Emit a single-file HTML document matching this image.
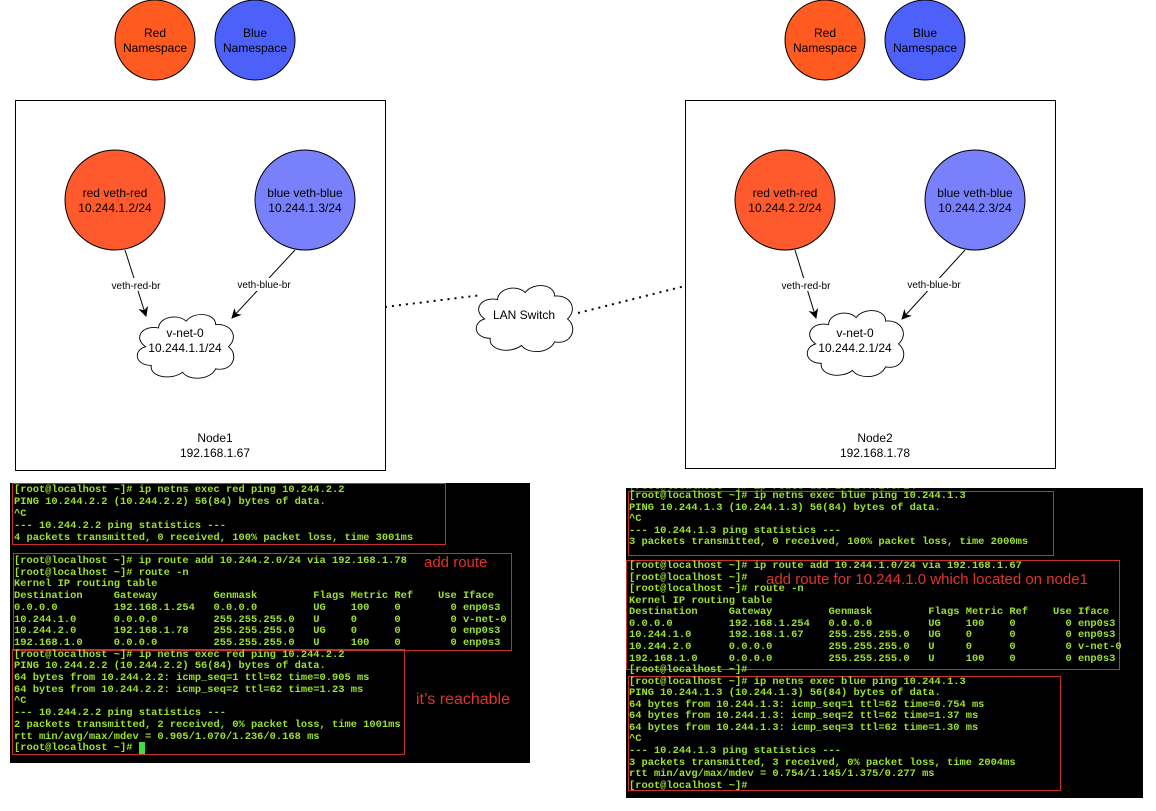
<!DOCTYPE html>
<html><head><meta charset="utf-8"><style>
body{margin:0;width:1156px;height:811px;background:#fff;position:relative;overflow:hidden;font-family:"Liberation Sans",sans-serif}
svg{position:absolute;left:0;top:0}
.term{position:absolute;background:#000;overflow:hidden}
.l{position:absolute;font-family:"Liberation Mono",monospace;font-size:10.4px;line-height:12px;color:#9be12e;white-space:pre;font-weight:bold}
.box{position:absolute;border:1px solid #c8302a}
.ann{position:absolute;color:#e0342c;font-size:15px;white-space:pre}
</style></head><body>
<svg width="1156" height="811" viewBox="0 0 1156 811" font-family="Liberation Sans, sans-serif" text-anchor="middle">
<defs>
<path id="cl" d="M30,20 C30,8 50,2 60,12 C68,0 92,2 92,16 C108,14 118,30 106,42 C118,52 110,72 92,68 C86,82 62,82 56,72 C44,82 20,78 22,64 C4,64 2,46 16,42 C2,32 12,16 30,20 Z" fill="#fff" stroke="#000" stroke-width="1"/>
<marker id="ar" markerWidth="10" markerHeight="10" refX="9" refY="5" orient="auto" markerUnits="userSpaceOnUse"><path d="M0,0 L10,5 L0,10 L3,5 Z" fill="#000"/></marker>
</defs>
<g stroke="#000" stroke-width="1">
<circle cx="155" cy="40" r="40" fill="#ff5a1f"/><circle cx="255" cy="40" r="40" fill="#4d61fa"/>
<circle cx="825" cy="40" r="40" fill="#ff5a1f"/><circle cx="925" cy="40" r="40" fill="#4d61fa"/>
<rect x="15.5" y="100.5" width="370" height="370" fill="#fff"/>
<rect x="685.5" y="100.5" width="370" height="368" fill="#fff"/>
<circle cx="115" cy="200" r="50" fill="#ff5a2d"/><circle cx="305" cy="200" r="50" fill="#7880fc"/>
<circle cx="785" cy="200" r="50" fill="#ff5a2d"/><circle cx="975" cy="200" r="50" fill="#7880fc"/>
<line x1="125" y1="250" x2="146" y2="316" marker-end="url(#ar)"/>
<line x1="295" y1="250" x2="232" y2="318" marker-end="url(#ar)"/>
<line x1="795" y1="250" x2="816" y2="318" marker-end="url(#ar)"/>
<line x1="965" y1="250" x2="902" y2="319" marker-end="url(#ar)"/>
<line x1="385" y1="307" x2="482" y2="295" stroke-width="2" stroke-dasharray="2,5"/>
<line x1="578" y1="313" x2="685" y2="286" stroke-width="2" stroke-dasharray="2,5"/>
</g>
<use href="#cl" transform="translate(131,311) scale(0.92,0.85)"/>
<use href="#cl" transform="translate(801,307) scale(0.92,0.88)"/>
<use href="#cl" transform="translate(470,282) scale(0.92,0.88)"/>
<g font-size="12" fill="#000">
<text x="155" y="37">Red</text><text x="155" y="52">Namespace</text>
<text x="255" y="37">Blue</text><text x="255" y="52">Namespace</text>
<text x="825" y="37">Red</text><text x="825" y="52">Namespace</text>
<text x="925" y="37">Blue</text><text x="925" y="52">Namespace</text>
<text x="115" y="197">red veth-red</text><text x="115" y="212">10.244.1.2/24</text>
<text x="305" y="197">blue veth-blue</text><text x="305" y="212">10.244.1.3/24</text>
<text x="785" y="197">red veth-red</text><text x="785" y="212">10.244.2.2/24</text>
<text x="975" y="197">blue veth-blue</text><text x="975" y="212">10.244.2.3/24</text>
<text x="185" y="337">v-net-0</text><text x="185" y="352">10.244.1.1/24</text>
<text x="855" y="337">v-net-0</text><text x="855" y="352">10.244.2.1/24</text>
<text x="524" y="319">LAN Switch</text>
<text x="215" y="442">Node1</text><text x="215" y="457">192.168.1.67</text>
<text x="875" y="442">Node2</text><text x="875" y="457">192.168.1.78</text>
</g>
<g font-size="10" fill="#000">
<rect x="106" y="278" width="60" height="13" fill="#fff"/><text x="136" y="289">veth-red-br</text>
<rect x="232" y="278" width="64" height="13" fill="#fff"/><text x="264" y="288">veth-blue-br</text>
<rect x="776" y="278" width="60" height="13" fill="#fff"/><text x="806" y="289">veth-red-br</text>
<rect x="902" y="278" width="64" height="13" fill="#fff"/><text x="934" y="288">veth-blue-br</text>
</g>
</svg>

<div class="term" style="left:10px;top:483px;width:520px;height:280px"></div>
<div class="box" style="left:12px;top:483px;width:432px;height:60px"></div>
<div class="box" style="left:13px;top:553px;width:497px;height:96px"></div>
<div class="box" style="left:12px;top:649px;width:391px;height:104px"></div>
<div class="l" style="left:14px;top:484px">[root@localhost ~]# ip netns exec red ping 10.244.2.2
PING 10.244.2.2 (10.244.2.2) 56(84) bytes of data.
^C
--- 10.244.2.2 ping statistics ---
4 packets transmitted, 0 received, 100% packet loss, time 3001ms</div>
<div class="l" style="left:14px;top:556px;line-height:11.7px">[root@localhost ~]# ip route add 10.244.2.0/24 via 192.168.1.78
[root@localhost ~]# route -n
Kernel IP routing table
Destination     Gateway         Genmask         Flags Metric Ref    Use Iface
0.0.0.0         192.168.1.254   0.0.0.0         UG    100    0        0 enp0s3
10.244.1.0      0.0.0.0         255.255.255.0   U     0      0        0 v-net-0
10.244.2.0      192.168.1.78    255.255.255.0   UG    0      0        0 enp0s3
192.168.1.0     0.0.0.0         255.255.255.0   U     100    0        0 enp0s3
[root@localhost ~]# ip netns exec red ping 10.244.2.2
PING 10.244.2.2 (10.244.2.2) 56(84) bytes of data.
64 bytes from 10.244.2.2: icmp_seq=1 ttl=62 time=0.905 ms
64 bytes from 10.244.2.2: icmp_seq=2 ttl=62 time=1.23 ms
^C
--- 10.244.2.2 ping statistics ---
2 packets transmitted, 2 received, 0% packet loss, time 1001ms
rtt min/avg/max/mdev = 0.905/1.070/1.236/0.168 ms
[root@localhost ~]# <span style="background:#3ee03e">&nbsp;</span></div>
<div class="ann" style="left:424px;top:554px">add route</div>
<div class="ann" style="left:416px;top:691px;font-size:16px">it’s reachable</div>

<div class="term" style="left:626px;top:488px;width:517px;height:310px"><div class="l" style="left:3px;top:-7px;opacity:.6">[root@localhost ~]# ip route del 10.244.1.0/24</div></div>
<div class="box" style="left:628px;top:491px;width:424px;height:63px"></div>
<div class="box" style="left:626px;top:560px;width:492px;height:108px"></div>
<div class="box" style="left:628px;top:676px;width:431px;height:113px"></div>
<div class="l" style="left:629px;top:491px;line-height:11.6px">[root@localhost ~]# ip netns exec blue ping 10.244.1.3
PING 10.244.1.3 (10.244.1.3) 56(84) bytes of data.
^C
--- 10.244.1.3 ping statistics ---
3 packets transmitted, 0 received, 100% packet loss, time 2000ms</div>
<div class="l" style="left:629px;top:561px;line-height:11.56px">[root@localhost ~]# ip route add 10.244.1.0/24 via 192.168.1.67
[root@localhost ~]#
[root@localhost ~]# route -n
Kernel IP routing table
Destination     Gateway         Genmask         Flags Metric Ref    Use Iface
0.0.0.0         192.168.1.254   0.0.0.0         UG    100    0        0 enp0s3
10.244.1.0      192.168.1.67    255.255.255.0   UG    0      0        0 enp0s3
10.244.2.0      0.0.0.0         255.255.255.0   U     0      0        0 v-net-0
192.168.1.0     0.0.0.0         255.255.255.0   U     100    0        0 enp0s3
[root@localhost ~]#
[root@localhost ~]# ip netns exec blue ping 10.244.1.3
PING 10.244.1.3 (10.244.1.3) 56(84) bytes of data.
64 bytes from 10.244.1.3: icmp_seq=1 ttl=62 time=0.754 ms
64 bytes from 10.244.1.3: icmp_seq=2 ttl=62 time=1.37 ms
64 bytes from 10.244.1.3: icmp_seq=3 ttl=62 time=1.30 ms
^C
--- 10.244.1.3 ping statistics ---
3 packets transmitted, 3 received, 0% packet loss, time 2004ms
rtt min/avg/max/mdev = 0.754/1.145/1.375/0.277 ms
[root@localhost ~]#</div>
<div class="ann" style="left:766px;top:571px">add route for 10.244.1.0 which located on node1</div>
</body></html>
